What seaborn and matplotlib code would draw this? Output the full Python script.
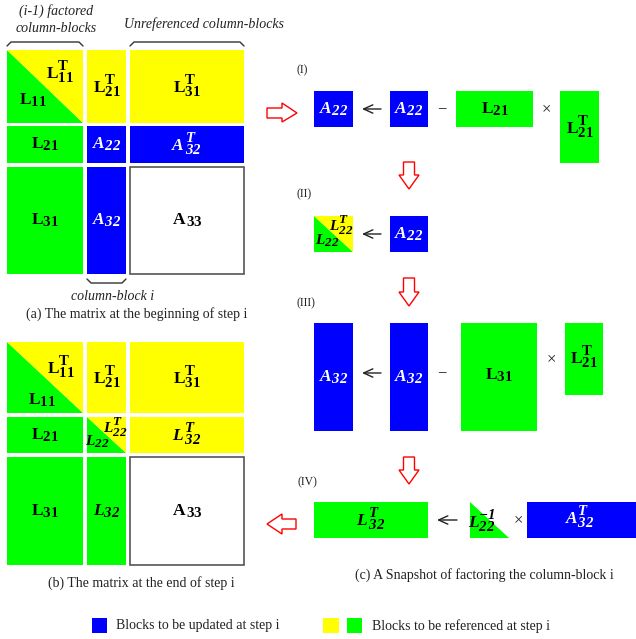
import matplotlib
matplotlib.use("Agg")
import matplotlib.pyplot as plt
import matplotlib._mathtext as mathtext_core
from matplotlib.patches import Rectangle, Polygon
import seaborn as sns

sns.set_theme(style="white")
plt.rcParams["font.family"] = ["Liberation Serif", "DejaVu Serif"]
plt.rcParams["mathtext.fontset"] = "custom"
plt.rcParams["mathtext.rm"] = "Liberation Serif"
plt.rcParams["mathtext.it"] = "Liberation Serif:italic"
plt.rcParams["mathtext.bf"] = "Liberation Serif:bold"
plt.rcParams["mathtext.bfit"] = "Liberation Serif:italic:bold"
# larger sub/superscripts for the block names
mathtext_core.SHRINK_FACTOR = 0.86

BLUE, YELLOW, GREEN, WHITE = "#0000ff", "#ffff00", "#00ff00", "#ffffff"
SPLIT = "split"          # lower-left green / upper-right yellow


def bf(base, sub, sup=None):
    s = r"\mathbf{%s}_{\mathbf{%s}}" % (base, sub)
    if sup:
        s += r"^{\mathbf{%s}}" % sup
    return "$" + s + "$"


def bi(base, sub, sup=None):
    s = r"\mathbfit{%s}_{\mathbfit{%s}}" % (base, sub)
    if sup:
        s += r"^{\mathbfit{%s}}" % sup
    return "$" + s + "$"


A33 = r"$\mathbf{A}_{\,\mathbf{33}}$"
A32T_wide = r"$\mathbfit{A}_{\,\mathbfit{32}}^{\,\mathbfit{T}}$"
L32T_wide = r"$\mathbfit{L}_{\,\mathbfit{32}}^{\,\mathbfit{T}}$"

# ---- block matrix at the beginning / end of step i (3x3 block grid) ----
begin_colors = [[SPLIT, YELLOW, YELLOW],
                [GREEN, BLUE, BLUE],
                [GREEN, BLUE, WHITE]]
begin_labels = [[(bf("L", "11", "T"), bf("L", "11")), bf("L", "21", "T"), bf("L", "31", "T")],
                [bf("L", "21"), bi("A", "22"), A32T_wide],
                [bf("L", "31"), bi("A", "32"), A33]]

end_colors = [[SPLIT, YELLOW, YELLOW],
              [GREEN, SPLIT, YELLOW],
              [GREEN, GREEN, WHITE]]
end_labels = [[(bf("L", "11", "T"), bf("L", "11")), bf("L", "21", "T"), bf("L", "31", "T")],
              [bf("L", "21"), (bi("L", "22", "T"), bi("L", "22")), L32T_wide],
              [bf("L", "31"), bi("L", "32"), A33]]

captions = ["(a) The matrix at the beginning of step i",
            "(b) The matrix at the end of step i",
            "(c) A Snapshot of factoring the column-block i"]
step_names = ["(I)", "(II)", "(III)", "(IV)"]
legend_texts = ["Blocks to be updated at step i", "Blocks to be referenced at step i"]

# ---- layout (pixel coordinates, y downward) ----
COLS = [(7, 83), (87, 126), (130, 244)]
ROWS_A = [(50, 123), (126, 163), (167, 274)]
ROWS_B = [(342, 413), (417, 453), (457, 565)]
FS = 12.5
FS_SMALL = 11

fig = plt.figure(figsize=(6.36, 6.39), dpi=100)
ax = fig.add_axes([0, 0, 1, 1])
ax.set_xlim(0, 636)
ax.set_ylim(639, 0)
ax.axis("off")


def block(x0, x1, y0, y1, color):
    if color == SPLIT:
        ax.add_patch(Polygon([(x0, y0), (x0, y1), (x1, y1)], closed=True,
                             facecolor=GREEN, edgecolor="none"))
        ax.add_patch(Polygon([(x0, y0), (x1, y0), (x1, y1)], closed=True,
                             facecolor=YELLOW, edgecolor="none"))
    elif color == WHITE:
        ax.add_patch(Rectangle((x0, y0), x1 - x0, y1 - y0, facecolor=WHITE,
                               edgecolor="#555555", lw=1.2))
    else:
        ax.add_patch(Rectangle((x0, y0), x1 - x0, y1 - y0, facecolor=color,
                               edgecolor="none"))


def label(x, y, s, color="black", fs=FS):
    ax.text(x, y, s, ha="center", va="center", color=color, fontsize=fs)


def draw_matrix(rows, colors, labels, split_pos):
    for r, (y0, y1) in enumerate(rows):
        for c, (x0, x1) in enumerate(COLS):
            col = colors[r][c]
            block(x0, x1, y0, y1, col)
            lab = labels[r][c]
            if col == SPLIT:
                (ux, uy, lx, ly, fs) = split_pos[(r, c)]
                label(ux, uy, lab[0], fs=fs)
                label(lx, ly, lab[1], fs=fs)
            else:
                label((x0 + x1) / 2, (y0 + y1) / 2, lab,
                      color="white" if col == BLUE else "black")


draw_matrix(ROWS_A, begin_colors, begin_labels,
            {(0, 0): (60, 73, 33, 100, FS)})
draw_matrix(ROWS_B, end_colors, end_labels,
            {(0, 0): (61, 368, 42, 400, FS), (1, 1): (115, 427, 97, 442, FS_SMALL)})


def brace(x0, x1, y, down=True):
    d = 4 if down else -4
    ax.plot([x0, x0 + 4, x1 - 4, x1], [y + d, y, y, y + d],
            color="#333333", lw=1.0, solid_joinstyle="round")


brace(7, 83, 42)
brace(130, 244, 42)
brace(87, 126, 283, down=False)

it = dict(ha="center", va="center", fontsize=10, style="italic", color="#222222")
ax.text(56, 11, "(i-1) factored", **it)
ax.text(56, 28, "column-blocks", **it)
ax.text(204, 24, "Unreferenced column-blocks", **it)
ax.text(113, 297, "column-block i", **it)

cap = dict(ha="center", va="center", fontsize=10, color="#222222")
ax.text(137, 314, captions[0], **cap)
ax.text(141, 583, captions[1], **cap)
ax.text(484, 575, captions[2], **cap)

# ---- step-by-step snapshot ----
for name, (x, y) in zip(step_names, [(302, 70), (304, 194), (306, 303), (307, 482)]):
    ax.text(x, y, name, ha="center", va="center", fontsize=8.5, color="#222222")


def larrow(x0, x1, y):
    ax.annotate("", xy=(x0, y), xytext=(x1, y),
                arrowprops=dict(arrowstyle="->,head_length=0.55,head_width=0.25",
                                color="#222222", lw=1.0, shrinkA=0, shrinkB=0))


def op(x, y, s):
    ax.text(x, y, s, ha="center", va="center", fontsize=12, color="#222222")


# (I)  A22 <- A22 - L21 x L21^T
block(314, 353, 91, 127, BLUE); label(333.5, 109, bi("A", "22"), "white")
larrow(362, 381, 109)
block(390, 428, 91, 127, BLUE); label(409, 109, bi("A", "22"), "white")
op(442, 109, "\u2212")
block(456, 533, 91, 127, GREEN); label(494.5, 109, bf("L", "21"))
op(546, 109, "\u00d7")
block(560, 599, 91, 163, GREEN); label(580, 128, bf("L", "21", "T"))

# (II)  L22 L22^T <- A22
block(314, 353, 216, 252, SPLIT)
label(341, 225, bi("L", "22", "T"), fs=FS_SMALL)
label(327, 241, bi("L", "22"), fs=FS_SMALL)
larrow(362, 381, 234)
block(390, 428, 216, 252, BLUE); label(409, 234, bi("A", "22"), "white")

# (III) A32 <- A32 - L31 x L21^T
block(314, 353, 323, 431, BLUE); label(333.5, 377, bi("A", "32"), "white")
larrow(362, 381, 373)
block(390, 428, 323, 431, BLUE); label(409, 377, bi("A", "32"), "white")
op(442, 373, "\u2212")
block(461, 537, 323, 431, GREEN); label(499, 375, bf("L", "31"))
op(551, 359, "\u00d7")
block(565, 603, 323, 395, GREEN); label(584, 358, bf("L", "21", "T"))

# (IV) L32^T <- L22^-1 x A32^T
block(314, 428, 502, 538, GREEN); label(371, 520, L32T_wide)
larrow(437, 457, 520)
ax.add_patch(Polygon([(470, 502), (470, 538), (509, 538)], closed=True,
                     facecolor=GREEN, edgecolor="none"))
label(482, 522, bi("L", "22", "-1"))
op(518, 520, "\u00d7")
block(527, 636, 502, 538, BLUE); label(580, 518, bi("A", "32", "T"), "white")


# ---- hollow red flow arrows ----
def red_arrow(pts):
    ax.add_patch(Polygon(pts, closed=True, facecolor="white",
                         edgecolor="#ff0000", lw=1.0, joinstyle="miter"))


red_arrow([(267, 108), (282, 108), (282, 103), (297, 113), (282, 122), (282, 118), (267, 118)])
red_arrow([(296, 519), (282, 519), (282, 514), (267, 524), (282, 534), (282, 529), (296, 529)])


def down_arrow(top, head, tip, xc=409):
    red_arrow([(xc - 5.5, top), (xc + 5.5, top), (xc + 5.5, head), (xc + 10, head),
               (xc, tip), (xc - 10, head), (xc - 5.5, head)])


down_arrow(162, 175, 189)
down_arrow(278, 292, 306)
down_arrow(457, 470, 484)

# ---- legend ----
ax.add_patch(Rectangle((92, 618), 15, 15, facecolor=BLUE, edgecolor="none"))
ax.text(116, 626, legend_texts[0], ha="left", va="center", fontsize=10, color="#222222")
ax.add_patch(Rectangle((323, 618), 16, 15, facecolor=YELLOW, edgecolor="none"))
ax.add_patch(Rectangle((347, 618), 15, 15, facecolor=GREEN, edgecolor="none"))
ax.text(372, 626, legend_texts[1], ha="left", va="center", fontsize=10, color="#222222")

fig.savefig("out.png", dpi=100)
